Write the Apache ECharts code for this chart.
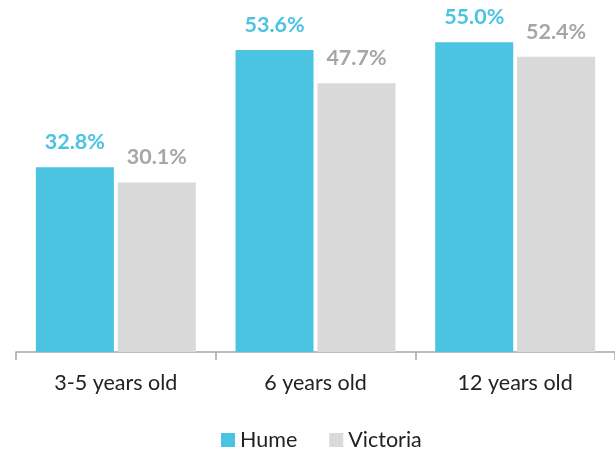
<!DOCTYPE html>
<html>
<head>
<meta charset="utf-8">
<script src="https://cdn.jsdelivr.net/npm/echarts@6/dist/echarts.min.js"></script>
<style>html,body{margin:0;padding:0;background:#fff}#c{width:615px;height:450px}</style>
</head>
<body>
<div id="c"></div>
<script>
const categories = ['3-5 years old', '6 years old', '12 years old'];
const hume = [32.8, 53.6, 55.0];
const victoria = [30.1, 47.7, 52.4];
const seriesNames = ['Hume', 'Victoria'];

const FONT = 'Lato';
const chart = echarts.init(document.getElementById('c'), null, {renderer: 'canvas'});
chart.setOption({
  animation: false,
  textStyle: {fontFamily: FONT},
  grid: {left: 16, right: 0, top: 14, bottom: 98, containLabel: false},
  legend: {
    data: seriesNames,
    top: 424,
    left: 216,
    itemWidth: 14,
    itemHeight: 14,
    itemGap: 32,
    icon: 'rect',
    textStyle: {fontFamily: FONT, fontSize: 21.5, color: '#222'}
  },
  xAxis: {
    type: 'category',
    data: categories,
    axisLine: {lineStyle: {color: '#A6A6A6', width: 1.5}},
    axisTick: {show: true, length: 8, interval: 0, lineStyle: {color: '#A6A6A6', width: 1.5}},
    axisLabel: {fontFamily: FONT, fontSize: 21.5, color: '#222', margin: 20}
  },
  yAxis: {
    type: 'value', min: 0, max: 60, show: false, splitLine: {show: false}
  },
  series: [
    {
      name: seriesNames[0], type: 'bar', data: hume,
      barWidth: 78, barGap: '5%',
      itemStyle: {color: '#4BC4E2'},
      label: {show: true, position: 'top', distance: 14, formatter: p => p.value.toFixed(1) + '%',
        fontFamily: FONT, fontWeight: 'bold', fontSize: 21.5, color: '#4BC4E2'}
    },
    {
      name: seriesNames[1], type: 'bar', data: victoria,
      barWidth: 78, barGap: '5%',
      itemStyle: {color: '#D9D9D9'},
      label: {show: true, position: 'top', distance: 14, formatter: p => p.value.toFixed(1) + '%',
        fontFamily: FONT, fontWeight: 'bold', fontSize: 21.5, color: '#A6A6A6'}
    }
  ]
});
</script>
</body>
</html>
